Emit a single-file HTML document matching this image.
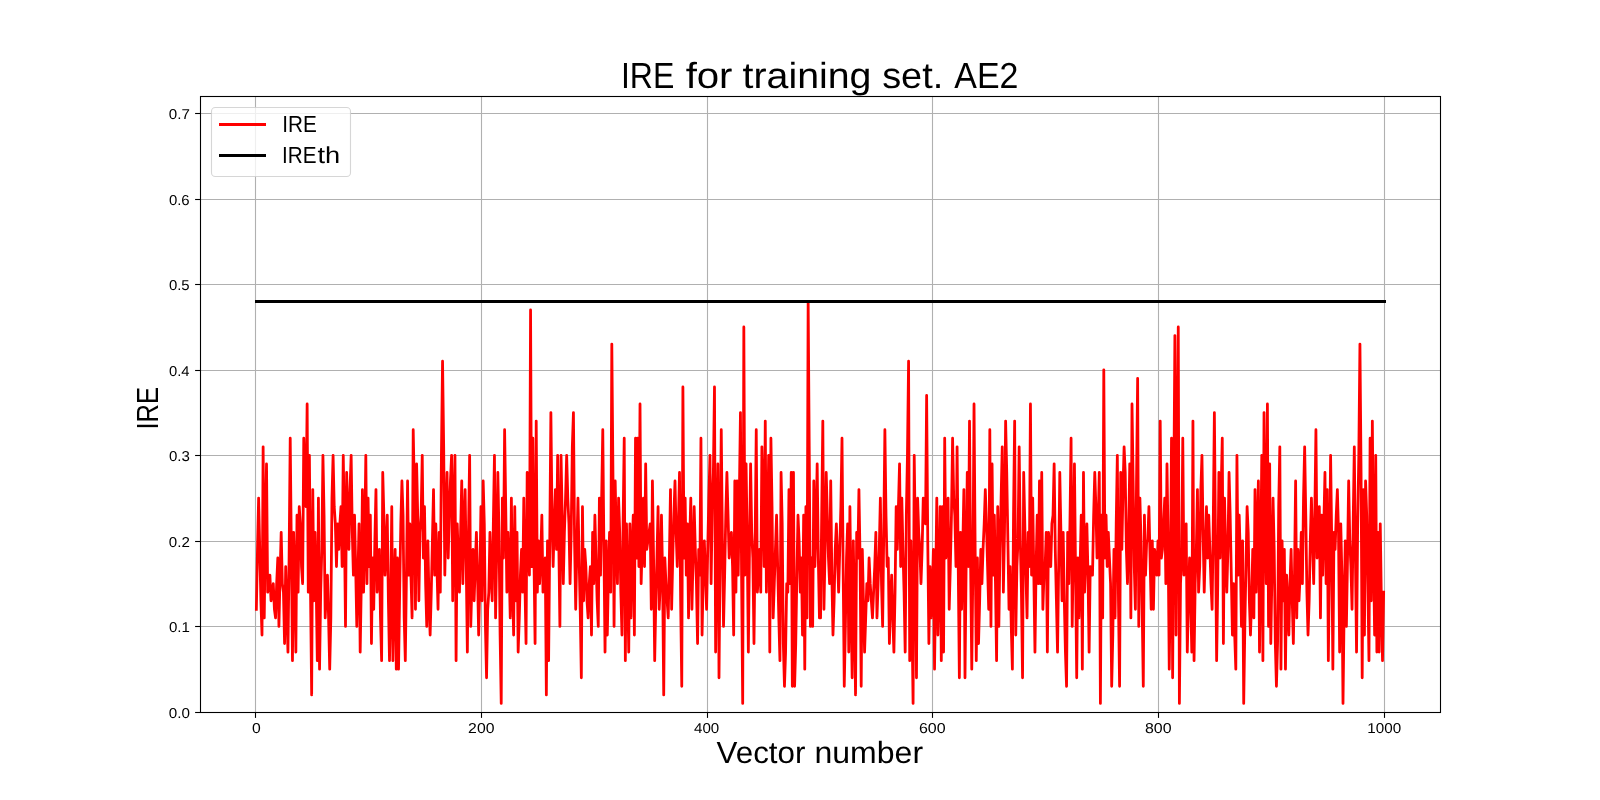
<!DOCTYPE html>
<html><head><meta charset="utf-8"><title>IRE for training set. AE2</title>
<style>
html,body{margin:0;padding:0;background:#fff;}
body{width:1600px;height:800px;overflow:hidden;}
svg{display:block;will-change:transform;}
text{font-family:"Liberation Sans",sans-serif;fill:#000;text-rendering:geometricPrecision;}
</style></head><body>
<svg width="1600" height="800" viewBox="0 0 1600 800">
<rect x="0" y="0" width="1600" height="800" fill="#ffffff"/>

<g stroke="#b0b0b0" stroke-width="1.1" fill="none">
<line x1="255.5" y1="96" x2="255.5" y2="712"/>
<line x1="481.5" y1="96" x2="481.5" y2="712"/>
<line x1="707.5" y1="96" x2="707.5" y2="712"/>
<line x1="932.5" y1="96" x2="932.5" y2="712"/>
<line x1="1158.5" y1="96" x2="1158.5" y2="712"/>
<line x1="1384.5" y1="96" x2="1384.5" y2="712"/>
<line x1="200" y1="712.5" x2="1440" y2="712.5"/>
<line x1="200" y1="626.5" x2="1440" y2="626.5"/>
<line x1="200" y1="541.5" x2="1440" y2="541.5"/>
<line x1="200" y1="455.5" x2="1440" y2="455.5"/>
<line x1="200" y1="370.5" x2="1440" y2="370.5"/>
<line x1="200" y1="284.5" x2="1440" y2="284.5"/>
<line x1="200" y1="199.5" x2="1440" y2="199.5"/>
<line x1="200" y1="113.5" x2="1440" y2="113.5"/>
</g>
<clipPath id="ax"><rect x="200" y="96" width="1240" height="616"/></clipPath>
<g clip-path="url(#ax)" fill="none" stroke-linejoin="round">
<polyline points="256.36,609.33 257.49,549.44 258.62,498.11 259.75,549.44 260.88,600.78 262.01,635.00 263.13,446.78 264.26,617.89 265.39,523.78 266.52,463.89 267.65,592.22 268.78,583.67 269.90,575.11 271.03,600.78 272.16,592.22 273.29,583.67 274.42,609.33 275.55,617.89 276.67,583.67 277.80,558.00 278.93,626.44 280.06,575.11 281.19,532.33 282.32,583.67 283.45,592.22 284.57,643.56 285.70,566.56 286.83,609.33 287.96,652.11 289.09,558.00 290.22,438.22 291.34,549.44 292.47,660.67 293.60,532.33 294.73,575.11 295.86,652.11 296.99,515.22 298.11,592.22 299.24,506.67 300.37,523.78 301.50,566.56 302.63,583.67 303.76,438.22 304.88,481.00 306.01,506.67 307.14,404.00 308.27,592.22 309.40,455.33 310.53,592.22 311.66,694.89 312.78,489.56 313.91,600.78 315.04,532.33 316.17,583.67 317.30,660.67 318.43,498.11 319.55,669.22 320.68,592.22 321.81,549.44 322.94,455.33 324.07,515.22 325.20,617.89 326.32,592.22 327.45,575.11 328.58,617.89 329.71,669.22 330.84,617.89 331.97,498.11 333.09,455.33 334.22,506.67 335.35,523.78 336.48,566.56 337.61,523.78 338.74,549.44 339.87,523.78 340.99,506.67 342.12,566.56 343.25,455.33 344.38,523.78 345.51,626.44 346.64,472.44 347.76,515.22 348.89,549.44 350.02,489.56 351.15,455.33 352.28,532.33 353.41,575.11 354.53,515.22 355.66,566.56 356.79,626.44 357.92,575.11 359.05,523.78 360.18,652.11 361.30,583.67 362.43,489.56 363.56,592.22 364.69,540.89 365.82,455.33 366.95,583.67 368.08,498.11 369.20,566.56 370.33,515.22 371.46,643.56 372.59,558.00 373.72,609.33 374.85,540.89 375.97,489.56 377.10,592.22 378.23,575.11 379.36,549.44 380.49,617.89 381.62,660.67 382.74,472.44 383.87,515.22 385.00,575.11 386.13,549.44 387.26,515.22 388.39,600.78 389.51,660.67 390.64,600.78 391.77,506.67 392.90,660.67 394.03,592.22 395.16,549.44 396.29,669.22 397.41,558.00 398.54,669.22 399.67,592.22 400.80,523.78 401.93,481.00 403.06,515.22 404.18,617.89 405.31,660.67 406.44,575.11 407.57,481.00 408.70,575.11 409.83,523.78 410.95,575.11 412.08,617.89 413.21,429.67 414.34,489.56 415.47,609.33 416.60,463.89 417.72,515.22 418.85,600.78 419.98,532.33 421.11,515.22 422.24,455.33 423.37,558.00 424.50,506.67 425.62,583.67 426.75,626.44 427.88,540.89 429.01,600.78 430.14,635.00 431.27,592.22 432.39,540.89 433.52,489.56 434.65,575.11 435.78,523.78 436.91,566.56 438.04,609.33 439.16,532.33 440.29,592.22 441.42,455.33 442.55,361.22 443.68,446.78 444.81,575.11 445.93,515.22 447.06,472.44 448.19,558.00 449.32,515.22 450.45,481.00 451.58,455.33 452.71,600.78 453.83,506.67 454.96,455.33 456.09,660.67 457.22,523.78 458.35,558.00 459.48,592.22 460.60,532.33 461.73,481.00 462.86,583.67 463.99,523.78 465.12,489.56 466.25,566.56 467.37,652.11 468.50,532.33 469.63,455.33 470.76,626.44 471.89,583.67 473.02,549.44 474.14,600.78 475.27,566.56 476.40,532.33 477.53,575.11 478.66,635.00 479.79,583.67 480.92,506.67 482.04,600.78 483.17,481.00 484.30,523.78 485.43,626.44 486.56,677.78 487.69,609.33 488.81,592.22 489.94,532.33 491.07,575.11 492.20,600.78 493.33,523.78 494.46,455.33 495.58,617.89 496.71,549.44 497.84,472.44 498.97,532.33 500.10,635.00 501.23,703.44 502.35,498.11 503.48,558.00 504.61,429.67 505.74,506.67 506.87,592.22 508.00,532.33 509.13,566.56 510.25,617.89 511.38,498.11 512.51,583.67 513.64,635.00 514.77,506.67 515.90,600.78 517.02,532.33 518.15,652.11 519.28,617.89 520.41,575.11 521.54,549.44 522.67,592.22 523.79,498.11 524.92,583.67 526.05,643.56 527.18,472.44 528.31,540.89 529.44,575.11 530.56,309.89 531.69,566.56 532.82,438.22 533.95,558.00 535.08,643.56 536.21,421.11 537.34,592.22 538.46,540.89 539.59,583.67 540.72,558.00 541.85,515.22 542.98,592.22 544.11,575.11 545.23,558.00 546.36,694.89 547.49,540.89 548.62,660.67 549.75,540.89 550.88,412.56 552.00,515.22 553.13,566.56 554.26,523.78 555.39,489.56 556.52,549.44 557.65,455.33 558.77,540.89 559.90,626.44 561.03,455.33 562.16,515.22 563.29,583.67 564.42,532.33 565.55,498.11 566.67,455.33 567.80,498.11 568.93,523.78 570.06,583.67 571.19,532.33 572.32,446.78 573.44,412.56 574.57,540.89 575.70,609.33 576.83,549.44 577.96,498.11 579.09,558.00 580.21,609.33 581.34,677.78 582.47,506.67 583.60,600.78 584.73,549.44 585.86,566.56 586.98,600.78 588.11,617.89 589.24,583.67 590.37,566.56 591.50,635.00 592.63,532.33 593.76,583.67 594.88,515.22 596.01,558.00 597.14,600.78 598.27,626.44 599.40,498.11 600.53,575.11 601.65,498.11 602.78,429.67 603.91,549.44 605.04,652.11 606.17,540.89 607.30,635.00 608.42,575.11 609.55,532.33 610.68,592.22 611.81,344.11 612.94,472.44 614.07,626.44 615.19,481.00 616.32,540.89 617.45,583.67 618.58,498.11 619.71,532.33 620.84,592.22 621.97,635.00 623.09,523.78 624.22,438.22 625.35,660.67 626.48,523.78 627.61,583.67 628.74,652.11 629.86,523.78 630.99,617.89 632.12,549.44 633.25,515.22 634.38,635.00 635.51,438.22 636.63,558.00 637.76,438.22 638.89,566.56 640.02,404.00 641.15,583.67 642.28,540.89 643.40,498.11 644.53,566.56 645.66,463.89 646.79,549.44 647.92,540.89 649.05,532.33 650.18,523.78 651.30,609.33 652.43,481.00 653.56,558.00 654.69,660.67 655.82,600.78 656.95,558.00 658.07,506.67 659.20,609.33 660.33,583.67 661.46,515.22 662.59,575.11 663.72,694.89 664.84,558.00 665.97,583.67 667.10,600.78 668.23,617.89 669.36,558.00 670.49,489.56 671.62,609.33 672.74,558.00 673.87,515.22 675.00,481.00 676.13,532.33 677.26,566.56 678.39,523.78 679.51,472.44 680.64,600.78 681.77,686.33 682.90,386.89 684.03,558.00 685.16,498.11 686.28,575.11 687.41,523.78 688.54,617.89 689.67,540.89 690.80,498.11 691.93,609.33 693.05,558.00 694.18,506.67 695.31,549.44 696.44,583.67 697.57,643.56 698.70,549.44 699.83,575.11 700.95,438.22 702.08,635.00 703.21,575.11 704.34,540.89 705.47,575.11 706.60,609.33 707.72,549.44 708.85,498.11 709.98,455.33 711.11,583.67 712.24,506.67 713.37,472.44 714.49,386.89 715.62,652.11 716.75,540.89 717.88,463.89 719.01,677.78 720.14,549.44 721.26,429.67 722.39,540.89 723.52,626.44 724.65,575.11 725.78,515.22 726.91,472.44 728.04,515.22 729.16,558.00 730.29,540.89 731.42,532.33 732.55,566.56 733.68,635.00 734.81,481.00 735.93,592.22 737.06,481.00 738.19,575.11 739.32,498.11 740.45,412.56 741.58,575.11 742.70,703.44 743.83,327.00 744.96,575.11 746.09,463.89 747.22,540.89 748.35,652.11 749.47,549.44 750.60,463.89 751.73,532.33 752.86,558.00 753.99,643.56 755.12,540.89 756.25,429.67 757.37,592.22 758.50,575.11 759.63,549.44 760.76,592.22 761.89,446.78 763.02,498.11 764.14,566.56 765.27,421.11 766.40,592.22 767.53,532.33 768.66,455.33 769.79,652.11 770.91,438.22 772.04,506.67 773.17,617.89 774.30,583.67 775.43,549.44 776.56,515.22 777.68,566.56 778.81,617.89 779.94,660.67 781.07,472.44 782.20,523.78 783.33,643.56 784.46,686.33 785.58,652.11 786.71,583.67 787.84,592.22 788.97,489.56 790.10,583.67 791.23,472.44 792.35,686.33 793.48,472.44 794.61,686.33 795.74,643.56 796.87,575.11 798.00,515.22 799.12,540.89 800.25,592.22 801.38,558.00 802.51,635.00 803.64,515.22 804.77,669.22 805.89,506.67 807.02,617.89 808.15,301.33 809.28,455.33 810.41,626.44 811.54,558.00 812.67,626.44 813.79,481.00 814.92,566.56 816.05,523.78 817.18,463.89 818.31,558.00 819.44,617.89 820.56,617.89 821.69,515.22 822.82,421.11 823.95,609.33 825.08,549.44 826.21,472.44 827.33,515.22 828.46,558.00 829.59,583.67 830.72,481.00 831.85,575.11 832.98,635.00 834.10,600.78 835.23,549.44 836.36,523.78 837.49,558.00 838.62,592.22 839.75,549.44 840.88,506.67 842.00,438.22 843.13,566.56 844.26,686.33 845.39,626.44 846.52,558.00 847.65,523.78 848.77,652.11 849.90,506.67 851.03,600.78 852.16,677.78 853.29,540.89 854.42,609.33 855.54,694.89 856.67,532.33 857.80,558.00 858.93,489.56 860.06,558.00 861.19,686.33 862.31,549.44 863.44,600.78 864.57,652.11 865.70,617.89 866.83,583.67 867.96,600.78 869.09,558.00 870.21,583.67 871.34,600.78 872.47,617.89 873.60,592.22 874.73,566.56 875.86,532.33 876.98,617.89 878.11,583.67 879.24,549.44 880.37,498.11 881.50,583.67 882.63,626.44 883.75,532.33 884.88,429.67 886.01,515.22 887.14,566.56 888.27,558.00 889.40,643.56 890.52,600.78 891.65,575.11 892.78,617.89 893.91,652.11 895.04,592.22 896.17,506.67 897.30,549.44 898.42,506.67 899.55,463.89 900.68,566.56 901.81,498.11 902.94,549.44 904.07,592.22 905.19,652.11 906.32,515.22 907.45,455.33 908.58,361.22 909.71,660.67 910.84,540.89 911.96,617.89 913.09,703.44 914.22,455.33 915.35,540.89 916.48,677.78 917.61,498.11 918.73,532.33 919.86,549.44 920.99,583.67 922.12,549.44 923.25,498.11 924.38,515.22 925.51,523.78 926.63,395.44 927.76,540.89 928.89,643.56 930.02,566.56 931.15,617.89 932.28,592.22 933.40,549.44 934.53,669.22 935.66,583.67 936.79,498.11 937.92,635.00 939.05,583.67 940.17,506.67 941.30,660.67 942.43,506.67 943.56,652.11 944.69,438.22 945.82,558.00 946.94,532.33 948.07,498.11 949.20,609.33 950.33,566.56 951.46,515.22 952.59,438.22 953.72,498.11 954.84,515.22 955.97,566.56 957.10,446.78 958.23,566.56 959.36,677.78 960.49,532.33 961.61,609.33 962.74,549.44 963.87,489.56 965.00,677.78 966.13,566.56 967.26,472.44 968.38,566.56 969.51,421.11 970.64,566.56 971.77,669.22 972.90,566.56 974.03,404.00 975.15,549.44 976.28,660.67 977.41,558.00 978.54,643.56 979.67,600.78 980.80,549.44 981.93,583.67 983.05,549.44 984.18,523.78 985.31,489.56 986.44,523.78 987.57,566.56 988.70,609.33 989.82,429.67 990.95,626.44 992.08,463.89 993.21,575.11 994.34,515.22 995.47,583.67 996.59,660.67 997.72,506.67 998.85,626.44 999.98,549.44 1001.11,498.11 1002.24,446.78 1003.36,592.22 1004.49,532.33 1005.62,421.11 1006.75,472.44 1007.88,540.89 1009.01,609.33 1010.14,566.56 1011.26,626.44 1012.39,669.22 1013.52,515.22 1014.65,421.11 1015.78,635.00 1016.91,566.56 1018.03,540.89 1019.16,446.78 1020.29,540.89 1021.42,592.22 1022.55,677.78 1023.68,472.44 1024.80,523.78 1025.93,575.11 1027.06,617.89 1028.19,532.33 1029.32,566.56 1030.45,404.00 1031.57,575.11 1032.70,498.11 1033.83,575.11 1034.96,652.11 1036.09,566.56 1037.22,515.22 1038.35,583.67 1039.47,481.00 1040.60,583.67 1041.73,472.44 1042.86,609.33 1043.99,575.11 1045.12,566.56 1046.24,532.33 1047.37,652.11 1048.50,532.33 1049.63,549.44 1050.76,566.56 1051.89,523.78 1053.01,515.22 1054.14,463.89 1055.27,549.44 1056.40,600.78 1057.53,652.11 1058.66,566.56 1059.79,472.44 1060.91,532.33 1062.04,600.78 1063.17,532.33 1064.30,600.78 1065.43,652.11 1066.56,686.33 1067.68,532.33 1068.81,583.67 1069.94,523.78 1071.07,438.22 1072.20,626.44 1073.33,549.44 1074.45,463.89 1075.58,575.11 1076.71,677.78 1077.84,558.00 1078.97,617.89 1080.10,566.56 1081.22,515.22 1082.35,669.22 1083.48,472.44 1084.61,592.22 1085.74,558.00 1086.87,523.78 1088.00,575.11 1089.12,652.11 1090.25,566.56 1091.38,575.11 1092.51,575.11 1093.64,515.22 1094.77,472.44 1095.89,506.67 1097.02,558.00 1098.15,523.78 1099.28,472.44 1100.41,703.44 1101.54,515.22 1102.66,617.89 1103.79,369.78 1104.92,558.00 1106.05,515.22 1107.18,566.56 1108.31,532.33 1109.43,558.00 1110.56,583.67 1111.69,686.33 1112.82,635.00 1113.95,549.44 1115.08,617.89 1116.21,523.78 1117.33,455.33 1118.46,600.78 1119.59,686.33 1120.72,472.44 1121.85,549.44 1122.98,489.56 1124.10,446.78 1125.23,472.44 1126.36,549.44 1127.49,583.67 1128.62,532.33 1129.75,463.89 1130.87,617.89 1132.00,404.00 1133.13,481.00 1134.26,566.56 1135.39,609.33 1136.52,481.00 1137.64,378.33 1138.77,626.44 1139.90,498.11 1141.03,540.89 1142.16,609.33 1143.29,686.33 1144.42,515.22 1145.54,575.11 1146.67,540.89 1147.80,540.89 1148.93,506.67 1150.06,558.00 1151.19,609.33 1152.31,540.89 1153.44,609.33 1154.57,549.44 1155.70,558.00 1156.83,575.11 1157.96,540.89 1159.08,575.11 1160.21,421.11 1161.34,558.00 1162.47,549.44 1163.60,523.78 1164.73,498.11 1165.85,583.67 1166.98,463.89 1168.11,540.89 1169.24,669.22 1170.37,583.67 1171.50,438.22 1172.63,677.78 1173.75,498.11 1174.88,335.56 1176.01,635.00 1177.14,455.33 1178.27,327.00 1179.40,703.44 1180.52,583.67 1181.65,558.00 1182.78,438.22 1183.91,575.11 1185.04,549.44 1186.17,523.78 1187.29,652.11 1188.42,600.78 1189.55,558.00 1190.68,600.78 1191.81,652.11 1192.94,421.11 1194.06,660.67 1195.19,583.67 1196.32,549.44 1197.45,489.56 1198.58,592.22 1199.71,566.56 1200.84,489.56 1201.96,455.33 1203.09,532.33 1204.22,592.22 1205.35,549.44 1206.48,506.67 1207.61,558.00 1208.73,515.22 1209.86,549.44 1210.99,583.67 1212.12,609.33 1213.25,523.78 1214.38,412.56 1215.50,540.89 1216.63,660.67 1217.76,583.67 1218.89,472.44 1220.02,558.00 1221.15,489.56 1222.27,438.22 1223.40,643.56 1224.53,498.11 1225.66,549.44 1226.79,592.22 1227.92,549.44 1229.05,472.44 1230.17,515.22 1231.30,575.11 1232.43,635.00 1233.56,583.67 1234.69,635.00 1235.82,669.22 1236.94,455.33 1238.07,575.11 1239.20,515.22 1240.33,558.00 1241.46,626.44 1242.59,540.89 1243.71,703.44 1244.84,626.44 1245.97,566.56 1247.10,506.67 1248.23,532.33 1249.36,600.78 1250.48,635.00 1251.61,600.78 1252.74,549.44 1253.87,617.89 1255.00,489.56 1256.13,592.22 1257.26,532.33 1258.38,481.00 1259.51,652.11 1260.64,566.56 1261.77,455.33 1262.90,660.67 1264.03,412.56 1265.15,515.22 1266.28,583.67 1267.41,404.00 1268.54,626.44 1269.67,463.89 1270.80,643.56 1271.92,575.11 1273.05,498.11 1274.18,549.44 1275.31,643.56 1276.44,686.33 1277.57,643.56 1278.69,506.67 1279.82,446.78 1280.95,669.22 1282.08,540.89 1283.21,600.78 1284.34,549.44 1285.47,669.22 1286.59,575.11 1287.72,600.78 1288.85,635.00 1289.98,583.67 1291.11,549.44 1292.24,600.78 1293.36,643.56 1294.49,575.11 1295.62,481.00 1296.75,617.89 1297.88,549.44 1299.01,600.78 1300.13,575.11 1301.26,532.33 1302.39,583.67 1303.52,498.11 1304.65,446.78 1305.78,515.22 1306.90,592.22 1308.03,635.00 1309.16,600.78 1310.29,540.89 1311.42,498.11 1312.55,540.89 1313.68,583.67 1314.80,515.22 1315.93,429.67 1317.06,558.00 1318.19,532.33 1319.32,506.67 1320.45,617.89 1321.57,515.22 1322.70,575.11 1323.83,523.78 1324.96,472.44 1326.09,583.67 1327.22,489.56 1328.34,660.67 1329.47,566.56 1330.60,455.33 1331.73,540.89 1332.86,669.22 1333.99,532.33 1335.11,549.44 1336.24,515.22 1337.37,489.56 1338.50,532.33 1339.63,652.11 1340.76,523.78 1341.89,575.11 1343.01,703.44 1344.14,609.33 1345.27,540.89 1346.40,626.44 1347.53,558.00 1348.66,481.00 1349.78,540.89 1350.91,566.56 1352.04,609.33 1353.17,523.78 1354.30,446.78 1355.43,558.00 1356.55,652.11 1357.68,523.78 1358.81,455.33 1359.94,344.11 1361.07,472.44 1362.20,677.78 1363.32,489.56 1364.45,635.00 1365.58,481.00 1366.71,515.22 1367.84,583.67 1368.97,660.67 1370.10,438.22 1371.22,600.78 1372.35,421.11 1373.48,549.44 1374.61,635.00 1375.74,455.33 1376.87,652.11 1377.99,532.33 1379.12,652.11 1380.25,523.78 1381.38,600.78 1382.51,660.67 1383.64,592.22" stroke="#ff0000" stroke-width="2.78" stroke-linecap="square"/>
<rect x="255" y="300" width="1131" height="3" fill="#000" stroke="none"/>
</g>
<rect x="200.5" y="96.5" width="1240" height="616" fill="none" stroke="#000" stroke-width="1.1"/>
<g stroke="#000" stroke-width="1.1">
<line x1="255.5" y1="712.5" x2="255.5" y2="717.9"/>
<line x1="481.5" y1="712.5" x2="481.5" y2="717.9"/>
<line x1="707.5" y1="712.5" x2="707.5" y2="717.9"/>
<line x1="932.5" y1="712.5" x2="932.5" y2="717.9"/>
<line x1="1158.5" y1="712.5" x2="1158.5" y2="717.9"/>
<line x1="1384.5" y1="712.5" x2="1384.5" y2="717.9"/>
<line x1="195.1" y1="712.5" x2="200.5" y2="712.5"/>
<line x1="195.1" y1="626.5" x2="200.5" y2="626.5"/>
<line x1="195.1" y1="541.5" x2="200.5" y2="541.5"/>
<line x1="195.1" y1="455.5" x2="200.5" y2="455.5"/>
<line x1="195.1" y1="370.5" x2="200.5" y2="370.5"/>
<line x1="195.1" y1="284.5" x2="200.5" y2="284.5"/>
<line x1="195.1" y1="199.5" x2="200.5" y2="199.5"/>
<line x1="195.1" y1="113.5" x2="200.5" y2="113.5"/>
</g>
<rect x="211.5" y="107.5" width="139" height="69" rx="3.8" ry="3.8" fill="#ffffff" fill-opacity="0.8" stroke="#cccccc" stroke-opacity="0.8" stroke-width="1.1"/>
<rect x="219" y="123" width="47" height="3" fill="#ff0000"/>
<rect x="219" y="154" width="47" height="3" fill="#000000"/>
<text transform="translate(620.939,88) scale(0.943,1.069)" font-size="34">IRE</text>
<text transform="translate(685.625,88) scale(1.181,1.069)" font-size="34">for</text>
<text transform="translate(742.575,88) scale(1.156,1.069)" font-size="34">training</text>
<text transform="translate(882.161,88) scale(1.115,1.069)" font-size="34">set.</text>
<text transform="translate(954.291,88) scale(0.998,1.069)" font-size="34">AE2</text>
<text transform="translate(716.569,763) scale(1.1,1.076)" font-size="28.5">Vector</text>
<text transform="translate(814.443,763) scale(1.124,1.076)" font-size="28.5">number</text>
<text transform="translate(282.173,132) scale(0.918,1.03)" font-size="22.6">IRE</text>
<text transform="translate(281.961,163) scale(0.916,1.03)" font-size="22.6">IRE</text>
<text transform="translate(317.439,163) scale(1.206,1.03)" font-size="22.6">th</text>
<text transform="translate(158.36,429.553) rotate(-90) scale(0.899,1.072)" font-size="28.5">IRE</text>
<text transform="translate(251.999,733.169) scale(1.132,1.031)" font-size="13.9">0</text>
<text transform="translate(468.122,733.169) scale(1.136,1.031)" font-size="13.9">200</text>
<text transform="translate(694.029,733.169) scale(1.088,1.031)" font-size="13.9">400</text>
<text transform="translate(918.969,733.169) scale(1.15,1.031)" font-size="13.9">600</text>
<text transform="translate(1144.972,733.169) scale(1.146,1.031)" font-size="13.9">800</text>
<text transform="translate(1367.271,733.169) scale(1.095,1.031)" font-size="13.9">1000</text>
<text transform="translate(168.853,717.529) scale(1.095,1.029)" font-size="13.9">0.0</text>
<text transform="translate(168.876,631.529) scale(1.085,1.029)" font-size="13.9">0.1</text>
<text transform="translate(168.857,546.529) scale(1.088,1.029)" font-size="13.9">0.2</text>
<text transform="translate(168.892,460.529) scale(1.083,1.029)" font-size="13.9">0.3</text>
<text transform="translate(168.916,375.529) scale(1.064,1.029)" font-size="13.9">0.4</text>
<text transform="translate(168.884,289.529) scale(1.074,1.029)" font-size="13.9">0.5</text>
<text transform="translate(168.884,204.529) scale(1.075,1.029)" font-size="13.9">0.6</text>
<text transform="translate(168.841,118.529) scale(1.09,1.029)" font-size="13.9">0.7</text>
</svg></body></html>
